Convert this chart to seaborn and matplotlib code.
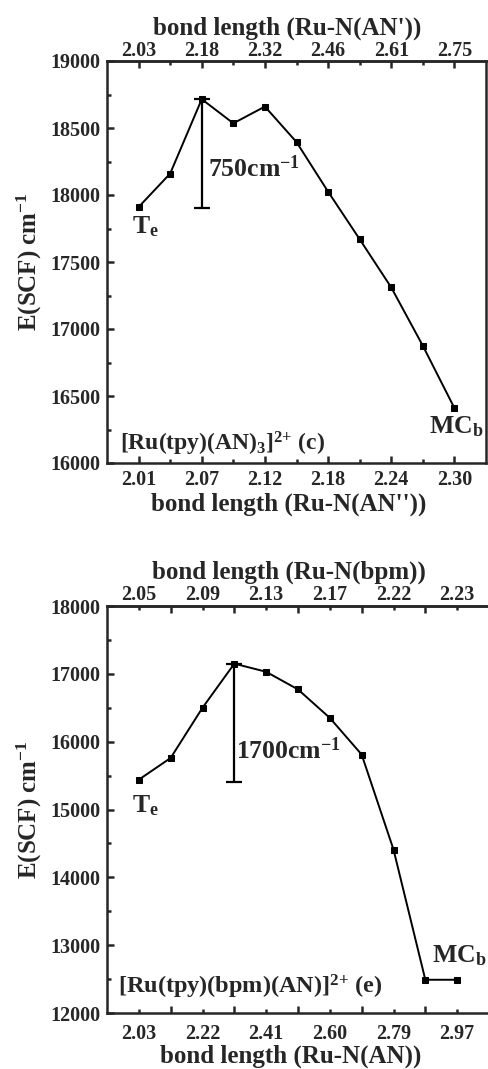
import matplotlib
matplotlib.use("Agg")
import matplotlib.pyplot as plt
import seaborn as sns
import pandas as pd

# ---------------- data ----------------
idx = list(range(11))
c_energy = [17910, 18160, 18715, 18535, 18660, 18395, 18025, 17670, 17310, 16875, 16410]
e_energy = [15440, 15760, 16500, 17150, 17030, 16770, 16350, 15810, 14410, 12490, 12490]

c_bottom_labels = ['2.01', '2.07', '2.12', '2.18', '2.24', '2.30']
c_top_labels = ['2.03', '2.18', '2.32', '2.46', '2.61', '2.75']
e_bottom_labels = ['2.03', '2.22', '2.41', '2.60', '2.79', '2.97']
e_top_labels = ['2.05', '2.09', '2.13', '2.17', '2.22', '2.23']
label_idx = [0, 2, 4, 6, 8, 10]

c_bar = dict(x=2, top=18715, bottom=17905)
e_bar = dict(x=3, top=17150, bottom=15400)

# ---------------- style ----------------
sns.set_style("ticks")
plt.rcParams['font.family'] = ['Liberation Serif', 'DejaVu Serif']
plt.rcParams['font.weight'] = 'bold'
plt.rcParams['mathtext.fontset'] = 'custom'
plt.rcParams['mathtext.rm'] = 'Liberation Serif:bold'
plt.rcParams['mathtext.it'] = 'Liberation Serif:bold'
plt.rcParams['mathtext.bf'] = 'Liberation Serif:bold'
plt.rcParams['axes.linewidth'] = 1.8

fig = plt.figure(figsize=(4.88, 10.69), dpi=100)
W, H = 488, 1069
ax1 = fig.add_axes([107 / W, (H - 463) / H, 379 / W, 402 / H])
ax2 = fig.add_axes([107 / W, (H - 1013) / H, 382 / W, 407 / H])

TICK_FS = 14.5
LABEL_FS = 18
ANN_FS = 18.5


def style_axis(ax, bottom_labels, top_labels, top_title, bottom_title,
               ylim, ymajor, yminor, labels_on_major=True,
               bot_pad=5, bot_lpad=2, top_pad=0, top_lpad=4.5):
    ax.set_xlim(-1, 11)
    ax.set_ylim(*ylim)
    ax.set_yticks(ymajor)
    ax.set_yticks(yminor, minor=True)
    ax.tick_params(axis='y', which='both', direction='in', left=True, right=False,
                   labelsize=TICK_FS, width=1.8, pad=5)
    ax.tick_params(axis='y', which='major', length=5)
    ax.tick_params(axis='y', which='minor', length=3)
    odd = [i for i in range(11) if i % 2 == 1]
    ax.set_xticks(label_idx)
    ax.set_xticklabels(bottom_labels)
    ax.set_xticks(odd, minor=True)
    big, small = (5, 3) if labels_on_major else (3, 5)
    ax.tick_params(axis='x', which='major', direction='in', length=big, width=1.8,
                   labelsize=TICK_FS, pad=bot_pad, top=False)
    ax.tick_params(axis='x', which='minor', direction='in', length=small, width=1.8,
                   top=False)
    ax.set_xlabel(bottom_title, fontsize=LABEL_FS, fontweight='bold', labelpad=bot_lpad)
    ax.xaxis.label.set_x(0.48)
    ax.set_ylabel('E(SCF) cm$^{-1}$', fontsize=LABEL_FS, fontweight='bold', labelpad=4)
    for lab in ax.get_xticklabels() + ax.get_yticklabels():
        lab.set_fontweight('bold')

    sec = ax.secondary_xaxis('top')
    sec.set_xticks(label_idx)
    sec.set_xticklabels(top_labels)
    sec.set_xticks(odd, minor=True)
    sec.tick_params(axis='x', which='major', direction='in', length=big, width=1.8,
                    labelsize=TICK_FS, pad=top_pad)
    sec.tick_params(axis='x', which='minor', direction='in', length=small, width=1.8)
    sec.set_xlabel(top_title, fontsize=LABEL_FS, fontweight='bold', labelpad=top_lpad)
    sec.xaxis.label.set_x(0.475)
    for lab in sec.get_xticklabels():
        lab.set_fontweight('bold')
    for s in ax.spines.values():
        s.set_linewidth(1.8)
    sec.spines['top'].set_linewidth(1.8)


def draw_curve(ax, y, bar):
    df = pd.DataFrame({'x': idx, 'y': y})
    sns.lineplot(data=df, x='x', y='y', ax=ax, color='black', linewidth=1.4,
                 marker='s', markersize=5, markeredgecolor='black',
                 markerfacecolor='black')
    mid = (bar['top'] + bar['bottom']) / 2
    half = (bar['top'] - bar['bottom']) / 2
    ax.errorbar([bar['x']], [mid], yerr=[half], fmt='none', ecolor='black',
                elinewidth=1.6, capsize=5.8, capthick=1.6)


# ---- panel (c) ----
draw_curve(ax1, c_energy, c_bar)
style_axis(ax1, c_bottom_labels, c_top_labels, "bond length (Ru-N(AN'))",
           "bond length (Ru-N(AN''))", (16000, 19000),
           list(range(16000, 19001, 500)), list(range(16250, 19000, 500)),
           bot_pad=5, bot_lpad=2, top_pad=0, top_lpad=4.5)
ax1.text(2.2, 18200, '750cm$^{-1}$', fontsize=ANN_FS, fontweight='bold', va='center', ha='left')
ax1.text(-0.2, 17760, 'T$_\\mathrm{e}$', fontsize=ANN_FS, fontweight='bold', va='center', ha='left')
ax1.text(10.92, 16270, 'MC$_\\mathrm{b}$', fontsize=ANN_FS, fontweight='bold', va='center', ha='right')
ax1.text(-0.6, 16140, '[Ru(tpy)(AN)$_3$]$^{2{+}}$ (c)', fontsize=17, fontweight='bold',
         va='center', ha='left')

# ---- panel (e) ----
draw_curve(ax2, e_energy, e_bar)
style_axis(ax2, e_bottom_labels, e_top_labels, "bond length (Ru-N(bpm))",
           "bond length (Ru-N(AN))", (12000, 18000),
           list(range(12000, 18001, 1000)), list(range(12500, 18000, 1000)),
           labels_on_major=False, bot_pad=8, bot_lpad=0.5, top_pad=1, top_lpad=4.5)
ax2.text(3.05, 15870, '1700cm$^{-1}$', fontsize=ANN_FS, fontweight='bold', va='center', ha='left')
ax2.text(-0.2, 15050, 'T$_\\mathrm{e}$', fontsize=ANN_FS, fontweight='bold', va='center', ha='left')
ax2.text(9.2, 12850, 'MC$_\\mathrm{b}$', fontsize=ANN_FS, fontweight='bold', va='center', ha='left')
ax2.text(-0.65, 12390, '[Ru(tpy)(bpm)(AN)]$^{2{+}}$ (e)', fontsize=17.5, fontweight='bold',
         va='center', ha='left')

fig.savefig('out.png', dpi=100)
